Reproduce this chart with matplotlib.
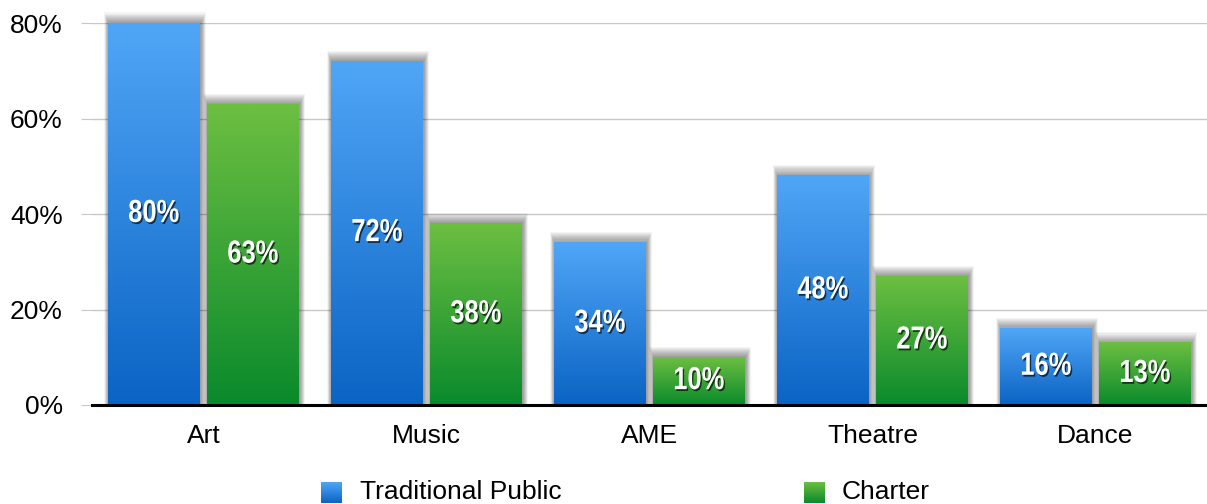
import numpy as np
import matplotlib
matplotlib.use("Agg")
import matplotlib.pyplot as plt
import matplotlib.patheffects as pe
from matplotlib.colors import LinearSegmentedColormap
from matplotlib.patches import Rectangle
from matplotlib.transforms import Affine2D

categories = ["Art", "Music", "AME", "Theatre", "Dance"]
traditional = [80, 72, 34, 48, 16]
charter = [63, 38, 10, 27, 13]
series_names = ["Traditional Public", "Charter"]
yticks = [0, 20, 40, 60, 80]

blue_cmap = LinearSegmentedColormap.from_list("blue", ["#0b63c4", "#50a6f6"])
green_cmap = LinearSegmentedColormap.from_list("green", ["#0a8a2c", "#6cbf41"])

plt.rcParams["font.family"] = ["Liberation Sans", "DejaVu Sans"]


class Narrow(pe.AbstractPathEffect):
    """Squeeze text horizontally about its centre, optionally as a drop shadow."""

    def __init__(self, sx=0.8, offset=(0, 0), shadow=False, alpha=0.65):
        super().__init__(offset)
        self.sx = sx
        self.shadow = shadow
        self.alpha = alpha

    def draw_path(self, renderer, gc, tpath, affine, rgbFace=None):
        v = affine.transform(tpath.vertices)
        cx = (v[:, 0].min() + v[:, 0].max()) / 2
        aff = (affine + Affine2D().translate(-cx, 0).scale(self.sx, 1).translate(cx, 0)
               + self._offset_transform(renderer))
        gc0 = renderer.new_gc()
        gc0.copy_properties(gc)
        if self.shadow:
            gc0.set_foreground("black")
            gc0.set_alpha(self.alpha)
            gc0.set_linewidth(0)
            rgbFace = (0, 0, 0)
        renderer.draw_path(gc0, tpath, aff, rgbFace)
        gc0.restore()


fig = plt.figure(figsize=(12.07, 5.04), dpi=100)
ax = fig.add_axes([92 / 1207, 99 / 504, 1115 / 1207, 382 / 504])

grad = np.linspace(0, 1, 256).reshape(-1, 1)
width = 0.412
offset = 0.222


def gradient_bar(x, h, cmap, label):
    x0 = x - width / 2
    # blurred shadow, darkest right at the top edge
    n = 10
    for k in range(n):
        pad_x = 0.0022 * (n - k)
        pad_y = 0.22 * (n - k)
        ax.add_patch(Rectangle((x0 - pad_x + 0.004, 0), width + 2 * pad_x, h + pad_y,
                               color="black", alpha=0.045, lw=0, zorder=2, clip_on=False))
    ax.imshow(grad, extent=(x0, x0 + width, 0, h), origin="lower", cmap=cmap,
              aspect="auto", zorder=3, clip_on=False)
    ax.text(x, h / 2, label, ha="center", va="center", color="white",
            fontsize=23, fontweight="bold", zorder=5,
            path_effects=[Narrow(0.8, offset=(1.0, -1.3), shadow=True), Narrow(0.8)])


for i, (t, c) in enumerate(zip(traditional, charter)):
    gradient_bar(i - offset, t, blue_cmap, f"{t}%")
    gradient_bar(i + offset, c, green_cmap, f"{c}%")

ax.set_xlim(-0.5, len(categories) - 0.5)
ax.set_ylim(0, 80)
ax.set_xticks(range(len(categories)))
ax.set_xticklabels(categories, fontsize=19)
ax.set_yticks(yticks)
ax.set_yticklabels([f"{v}%" for v in yticks], fontsize=19)
ax.tick_params(axis="x", length=0, pad=14)
ax.tick_params(axis="y", length=8, color="#c8c8c8", pad=13)
ax.grid(axis="y", color="#c8c8c8", lw=1, zorder=0)
for s in ["top", "right", "left"]:
    ax.spines[s].set_visible(False)
ax.spines["bottom"].set_linewidth(2.2)
ax.spines["bottom"].set_zorder(6)

# legend with gradient swatches
for name, cmap, sx, tx in [(series_names[0], blue_cmap, 321, 360),
                           (series_names[1], green_cmap, 804, 842)]:
    sw = fig.add_axes([sx / 1207, 1 / 504, 21 / 1207, 21 / 504])
    sw.imshow(grad, origin="lower", cmap=cmap, aspect="auto")
    sw.axis("off")
    fig.text(tx / 1207, 12 / 504, name, fontsize=19, va="center", ha="left")

fig.savefig("out.png", dpi=100)
